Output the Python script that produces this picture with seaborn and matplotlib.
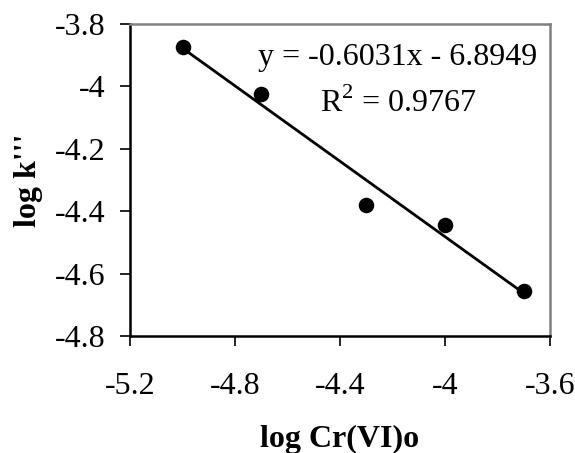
import matplotlib
matplotlib.use("Agg")
import matplotlib.pyplot as plt
import seaborn as sns
import pandas as pd
from matplotlib.ticker import FuncFormatter

log_cr = [-5.0, -4.7, -4.3, -4.0, -3.7]
log_k = [-3.875, -4.025, -4.38, -4.445, -4.656]
x_ticks = [-5.2, -4.8, -4.4, -4.0, -3.6]
y_ticks = [-4.8, -4.6, -4.4, -4.2, -4.0, -3.8]
eq_text = "y = -0.6031x - 6.8949"
r2_text = "R$^{2}$ = 0.9767"

sns.set_style("white")
plt.rcParams['font.family'] = ['Liberation Serif', 'DejaVu Serif']
plt.rcParams['mathtext.fontset'] = 'custom'
plt.rcParams['mathtext.rm'] = 'Liberation Serif'
plt.rcParams['axes.unicode_minus'] = False
plt.rcParams['text.color'] = 'black'
plt.rcParams['axes.labelcolor'] = 'black'
plt.rcParams['xtick.color'] = 'black'
plt.rcParams['ytick.color'] = 'black'

FS = 23

df = pd.DataFrame({"x": log_cr, "y": log_k})

fig = plt.figure(figsize=(5.75, 4.53), dpi=100)
ax = fig.add_axes([130/575, 1-336/453, 420/575, 312/453])

sns.regplot(data=df, x="x", y="y", ax=ax, ci=None,
            scatter_kws=dict(s=125, color="black", alpha=1, zorder=3, linewidths=0),
            line_kws=dict(color="black", lw=2.0))

ax.set_xlim(-5.2, -3.6)
ax.set_ylim(-4.8, -3.8)
ax.set_xticks(x_ticks)
ax.set_yticks(y_ticks)
fmt = FuncFormatter(lambda v, p: f"{v:g}")
ax.xaxis.set_major_formatter(fmt)
ax.yaxis.set_major_formatter(fmt)
ax.tick_params(axis='both', direction='out', length=7, width=1.2, color='black',
               labelsize=FS, labelcolor='black', left=True, bottom=True)
ax.tick_params(axis='x', pad=19)
ax.tick_params(axis='y', pad=11)

for s in ['left', 'bottom']:
    ax.spines[s].set_color('black')
    ax.spines[s].set_linewidth(1.8)
for s in ['top', 'right']:
    ax.spines[s].set_color('#808080')
    ax.spines[s].set_linewidth(1.8)

ax.set_xlabel("log Cr(VI)o", fontsize=FS, fontweight='bold', labelpad=17)
ax.set_ylabel("log k'''", fontsize=FS, fontweight='bold', labelpad=8)

ax.text(398, 453-65, eq_text, transform=None, fontsize=FS, ha='center', va='baseline')
ax.text(398, 453-112, r2_text, transform=None, fontsize=FS, ha='center', va='baseline')

fig.savefig("out.png", dpi=100)
